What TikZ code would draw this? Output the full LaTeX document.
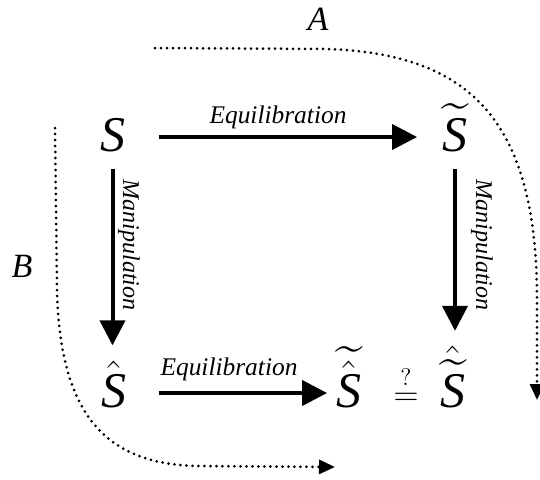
\documentclass[tikz,border=0pt]{standalone}
\usepackage{amsmath}
\usepackage{fontspec}
\setmainfont{Liberation Serif}
\usepackage{tikz}
\usetikzlibrary{arrows.meta,positioning}

\newcommand{\Sit}{\text{\itshape S}}

\begin{document}
\begin{tikzpicture}[x=0.5pt, y=-0.5pt,
  sym/.style={inner sep=0pt, anchor=base, font=\fontsize{25}{28}\selectfont\itshape},
  lbl/.style={inner sep=0pt, anchor=base, font=\fontsize{12.7}{15}\selectfont\itshape},
  side/.style={inner sep=0pt, rotate=-90, font=\fontsize{12}{14}\selectfont\itshape},
  tag/.style={inner sep=0pt, anchor=base, font=\fontsize{17}{20}\selectfont\itshape},
  arr/.style={-{Triangle[length=12.5pt, width=12.5pt]}, line width=2pt},
  route/.style={line width=1.5pt, dash pattern=on 0pt off 3pt, line cap=round,
    -{Triangle[length=8pt, width=7pt]}}
]
  \useasboundingbox (0,0) rectangle (540,479);

  % Top row
  \node[sym] (S) at (112.5,151) {$\Sit$};
  \node[sym] (St) at (455,151) {$\widetilde{\Sit}$};

  % Bottom row
  \node[sym] (Sh) at (114,407) {$\hat{\Sit}$};
  \node[sym] (Sht) at (349,407) {$\widetilde{\hat{\Sit}}$};
  \node[sym, font=\fontsize{18}{20}\selectfont] (eq) at (406,405) {$\stackrel{?}{=}$};
  \node[sym] (Sth) at (453,407) {$\hat{\widetilde{\Sit}}$};

  % Arrow labels
  \node[lbl] (eqtop) at (278,123) {Equilibration};
  \node[lbl] (eqbot) at (229,375) {Equilibration};
  \node[side] (manl) at (129,245) {Manipulation};
  \node[side] (manr) at (482,245) {Manipulation};

  % Paths A and B
  \node[tag] (A) at (318,30) {A};
  \node[tag] (B) at (22,277) {B};
  \coordinate (a0) at (155,48);
  \coordinate (a1) at (537,400);
  \coordinate (b0) at (55,128);
  \coordinate (b1) at (335,467);

  \draw[arr, shorten <=17pt, shorten >=12.5pt] ([yshift=7pt]S.base east) -- ([yshift=7pt]S.base east -| St.west);
  \draw[arr, shorten <=16pt, shorten >=4.5pt] ([yshift=7pt]Sh.base east) -- ([yshift=7pt]Sh.base east -| Sht.west);
  \draw[arr, shorten <=8.5pt, shorten >=7.5pt] (S.south) -- (S.south |- Sh.north);
  \draw[arr, shorten <=8.5pt, shorten >=7.5pt] (St.south) -- (St.south |- Sth.north);

  \draw[route] (a0) -- (330,49) .. controls (470,55) and (537,120) .. (537,300) -- (a1);
  \draw[route] (b0) -- (57,290) .. controls (60,420) and (110,465) .. (200,466) -- (b1);
\end{tikzpicture}
\end{document}
